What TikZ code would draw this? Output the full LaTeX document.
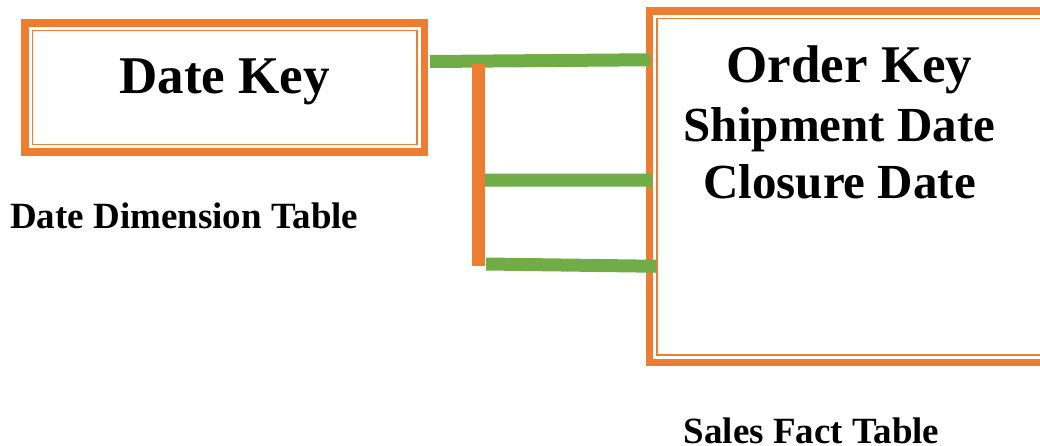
\documentclass[tikz,border=0pt]{standalone}
\usepackage{fontspec}
\setmainfont{Liberation Serif}
\usetikzlibrary{calc,positioning}
\definecolor{boxorange}{HTML}{ED7D31}
\definecolor{linkgreen}{HTML}{70AD47}

\begin{document}
\begin{tikzpicture}[
  x=1pt, y=-1pt,
  tablebox/.style={draw=boxorange,line width=7.5pt,inner sep=0pt,outer sep=0pt,fill=white},
  innerline/.style={draw=boxorange,line width=1.5pt},
  link/.style={draw=linkgreen,line width=13pt},
  bus/.style={draw=boxorange,line width=13pt},
  keytext/.style={font=\fontsize{53}{59}\selectfont\bfseries,inner sep=0pt,anchor=base},
  subtext/.style={font=\fontsize{49}{56}\selectfont\bfseries,inner sep=0pt,anchor=base},
  captext/.style={font=\fontsize{37}{42}\selectfont\bfseries,inner sep=0pt,anchor=base west}
]
  \useasboundingbox (0,0) rectangle (1040,445);
  \clip (0,0) rectangle (1040,445);

  % the two tables
  \node[tablebox,minimum width=399.5pt,minimum height=129pt] (datedim) at (224.75,87.5) {};
  \node[tablebox,minimum width=398.5pt,minimum height=351.5pt] (salesfact) at (848.75,186.75) {};

  \draw[innerline] ($(datedim.north west)+(7.5,7.5)$) rectangle ($(datedim.south east)+(-7.5,-7.5)$);
  \draw[innerline] ($(salesfact.north west)+(7.5,7.5)$) rectangle ($(salesfact.south east)+(-7.5,-7.5)$);

  \node[keytext] (datekey)   at ($(datedim.north)+(0,70)$)        {Date Key};
  \node[keytext] (orderkey)  at ($(salesfact.north)+(0.75,71)$)   {Order Key};
  \node[subtext] (shipdate)  at ($(salesfact.north)+(-9.25,130)$) {Shipment Date};
  \node[subtext] (closedate) at ($(salesfact.north)+(-9.25,187)$) {Closure Date};

  \node[captext] (dimcap)  at ($(datedim.south west)+(-15,76)$)    {Date Dimension Table};
  \node[captext] (factcap) at ($(salesfact.south west)+(34,81)$) {Sales Fact Table};

  % links
  \coordinate (bustop) at ($(datedim.east)+(54,-23.5)$);
  \coordinate (busbot) at ($(bustop)+(0,202)$);

  \draw[link] ($(datedim.east)+(5.5,-26)$) -- ($(salesfact.west)+(0.5,-127)$);
  \draw[link] ($(bustop)+(6.5,116)$)       -- ($(salesfact.west)+(2.5,-6.5)$);
  \draw[link] ($(busbot)+(7.5,-2)$)        -- ($(salesfact.west)+(6.5,79.5)$);
  \draw[bus]  (bustop) -- (busbot);

\end{tikzpicture}
\end{document}
